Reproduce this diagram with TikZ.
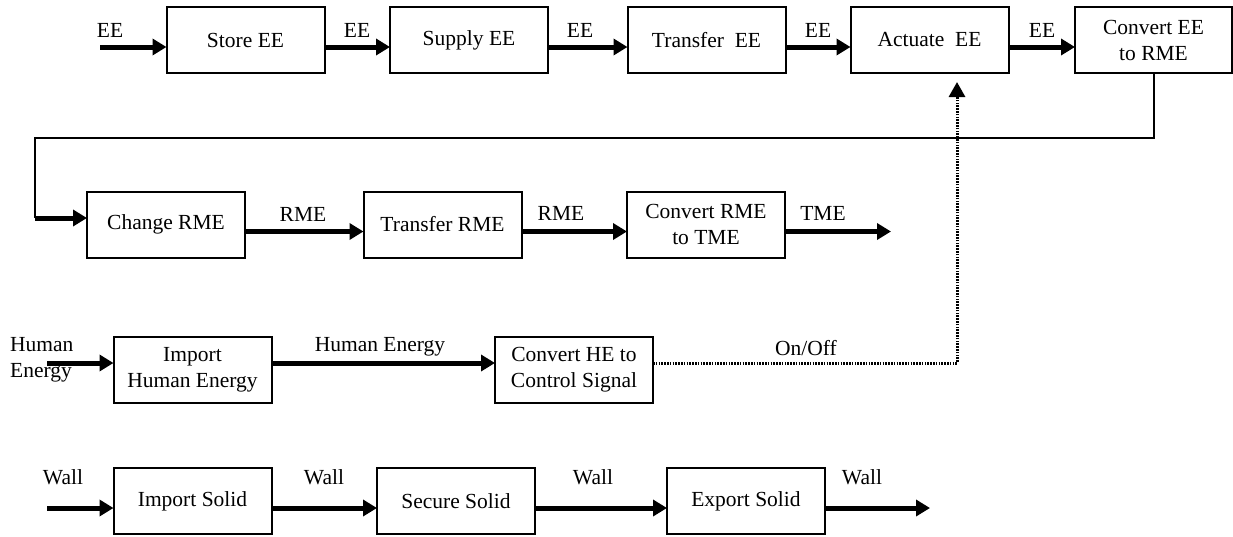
\documentclass[tikz,border=0pt]{standalone}
\usepackage{fontspec}
\setmainfont{Liberation Serif}
\usetikzlibrary{arrows.meta}
\newcommand{\fs}{\fontsize{21.5}{26}\selectfont}
\begin{document}
\begin{tikzpicture}[x=1pt,y=-1pt,
  box/.style={draw, line width=2pt, minimum width=158pt, minimum height=66pt, inner sep=2pt, outer sep=0pt, align=center, font=\fs},
  flow/.style={line width=5pt, -{Triangle[length=14pt,width=16pt]}},
  thinline/.style={line width=2pt},
  sigline/.style={line width=3pt, dash pattern=on 1.6pt off 1.2pt, -{Triangle[length=15pt,width=16pt]}},
  lbl/.style={font=\fs, inner sep=0pt}]
\useasboundingbox (0,0) rectangle (1233,536);
% row 1
\node[box] (store) at (245.5,40) {Store EE};
\node[box] (supply) at (469,40) {Supply EE};
\node[box] (transfer) at (706.5,40) {Transfer~~EE};
\node[box] (actuate) at (929.5,40) {Actuate~~EE};
\node[box, minimum width=157pt] (convee) at (1153.5,40) {Convert EE\\to RME};
\coordinate (in1) at (100,47);
\draw[flow] (in1) -- ([yshift=-7pt]store.west);
\draw[flow] ([yshift=-7pt]store.east) -- ([yshift=-7pt]supply.west);
\draw[flow] ([yshift=-7pt]supply.east) -- ([yshift=-7pt]transfer.west);
\draw[flow] ([yshift=-7pt]transfer.east) -- ([yshift=-7pt]actuate.west);
\draw[flow] ([yshift=-7pt]actuate.east) -- ([yshift=-7pt]convee.west);
\node[lbl] (l1) at (110,30) {EE};
\node[lbl] (l2) at (357,30) {EE};
\node[lbl] (l3) at (580,30) {EE};
\node[lbl] (l4) at (818,30) {EE};
\node[lbl] (l5) at (1042,30) {EE};
% row 2
\node[box] (change) at (166,224.5) {Change RME};
\node[box] (transrme) at (442.5,224.5) {Transfer RME};
\node[box] (convrme) at (706,224.5) {Convert RME\\to TME};
\coordinate (fbc) at (35,138);
\coordinate (fb) at (35,218);
\draw[thinline] (convee.south) |- (fbc) -- (fb);
\draw[flow] (fb) -- (change.west |- fb);
\draw[flow] ([yshift=-7pt]change.east) -- ([yshift=-7pt]transrme.west);
\draw[flow] ([yshift=-7pt]transrme.east) -- ([yshift=-7pt]convrme.west);
\coordinate (out2) at (891,231.5);
\draw[flow] ([yshift=-7pt]convrme.east) -- (out2);
\node[lbl] (l6) at (303,214) {RME};
\node[lbl] (l7) at (561,213) {RME};
\node[lbl] (l8) at (823,213) {TME};
% row 3
\node[box] (import) at (192.5,370) {Import\\Human Energy};
\node[box] (convhe) at (574,370) {Convert HE to\\Control Signal};
\coordinate (in3) at (47,363);
\draw[flow] (in3) -- ([yshift=7pt]import.west);
\draw[flow] ([yshift=7pt]import.east) -- ([yshift=7pt]convhe.west);
\coordinate (dc) at (957,363);
\coordinate (dtip) at (957,82);
\draw[sigline] ([yshift=7pt]convhe.east) -- (dc) -- (dtip);
\node[lbl, anchor=west, align=left] (l9) at (10,360) {Human\\Energy};
\node[lbl] (l10) at (380,347) {Human Energy};
\node[lbl] (l11) at (806,348) {On/Off};
% row 4
\node[box] (impsolid) at (192.5,501) {Import Solid};
\node[box] (secure) at (456,501) {Secure Solid};
\node[box] (export) at (746,501) {Export Solid};
\coordinate (in4) at (47,508);
\coordinate (out4) at (930,508);
\draw[flow] (in4) -- ([yshift=-7pt]impsolid.west);
\draw[flow] ([yshift=-7pt]impsolid.east) -- ([yshift=-7pt]secure.west);
\draw[flow] ([yshift=-7pt]secure.east) -- ([yshift=-7pt]export.west);
\draw[flow] ([yshift=-7pt]export.east) -- (out4);
\node[lbl] (l12) at (63,477) {Wall};
\node[lbl] (l13) at (324,477) {Wall};
\node[lbl] (l14) at (593,477) {Wall};
\node[lbl] (l15) at (862,477) {Wall};
\end{tikzpicture}
\end{document}
